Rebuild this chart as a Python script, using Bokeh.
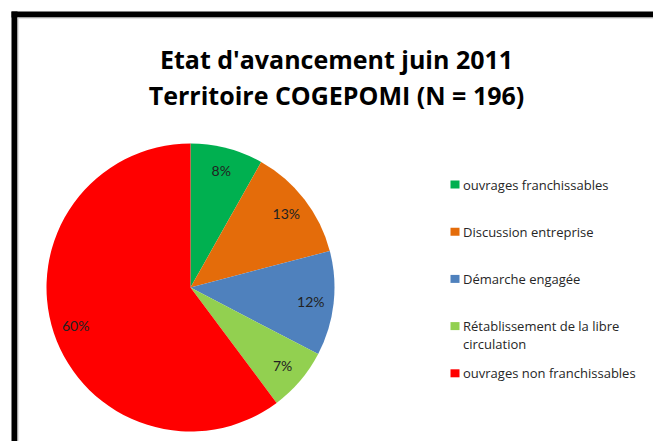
import numpy as np
from bokeh.plotting import figure
from bokeh.models import Range1d, ColumnDataSource
from bokeh.core.properties import value
from bokeh.embed import file_html
from bokeh.resources import INLINE

# ---- data ----
categories = [
    "ouvrages franchissables",
    "Discussion entreprise",
    "Démarche engagée",
    "Rétablissement de la libre\ncirculation",
    "ouvrages non franchissables",
]
counts = [16, 25, 23, 14, 118]
pct_labels = ["8%", "13%", "12%", "7%", "60%"]
colors = ["#00B050", "#E46C0A", "#4F81BD", "#92D050", "#FF0000"]
title_lines = ["Etat d'avancement juin 2011", "Territoire COGEPOMI (N = 196)"]

# ---- layout (pixel coordinates, top-down) ----
W, H = 653, 441
def Y(ypx):
    return H - ypx

CX, CY, R = 190, 287, 144
LABEL_R = 121

p = figure(width=W, height=H, x_range=Range1d(0, W), y_range=Range1d(0, H),
           output_backend="svg", toolbar_location=None, min_border=0,
           x_axis_location=None, y_axis_location=None)
p.grid.visible = False
p.outline_line_color = None
p.background_fill_color = "white"
p.border_fill_color = "white"

# frame decoration (black border top & left with thin grey inner line)
p.quad(left=[11, 11], right=[W, 17], top=[Y(11), Y(11)], bottom=[Y(17), 0],
       fill_color="black", line_color=None)
p.quad(left=[17, 17], right=[W, 18], top=[Y(17), Y(17)], bottom=[Y(18), 0],
       fill_color="#c8c8c8", line_color=None)

# ---- pie ----
vals = np.array(counts, dtype=float)
frac = vals / vals.sum()
cum = np.concatenate([[0], np.cumsum(frac)])
start = np.pi / 2 - cum[:-1] * 2 * np.pi
end = np.pi / 2 - cum[1:] * 2 * np.pi
mid = (start + end) / 2

src = ColumnDataSource(dict(start=start, end=end, color=colors,
                            lx=CX + LABEL_R * np.cos(mid),
                            ly=Y(CY) + LABEL_R * np.sin(mid),
                            lab=pct_labels))
p.wedge(x=CX, y=Y(CY), radius=R, radius_units="screen",
        start_angle="start", end_angle="end", direction="clock",
        fill_color="color", line_color=None, source=src)
p.text(x="lx", y="ly", text="lab", source=src, text_align="center",
       text_baseline="middle", text_font=value("Lato"), text_font_size="14px",
       text_color="#222222")

# ---- title ----
p.text(x=[336, 336], y=[Y(58), Y(94)], text=title_lines,
       text_align="center", text_baseline="middle",
       text_font=value("Open Sans"), text_font_style="bold",
       text_font_size="25px", text_color="black")

# ---- legend ----
LX, LY0, LDY, LINE_H = 454.5, 184, 47.2, 18
sq_x, sq_y, t_x, t_y, t_txt = [], [], [], [], []
for i, (cat, col) in enumerate(zip(categories, colors)):
    y0 = LY0 + i * LDY
    sq_x.append(LX)
    sq_y.append(Y(y0))
    for j, line in enumerate(cat.split("\n")):
        t_x.append(LX + 8)
        t_y.append(Y(y0 + j * LINE_H))
        t_txt.append(line)
p.rect(x=sq_x, y=sq_y, width=9, height=8, width_units="screen",
       height_units="screen", fill_color=colors, line_color=None)
p.text(x=t_x, y=t_y, text=t_txt, text_align="left", text_baseline="middle",
       text_font=value("Open Sans"), text_font_size="13px", text_color="#262626")

open("out.html", "w").write(file_html(p, INLINE))
